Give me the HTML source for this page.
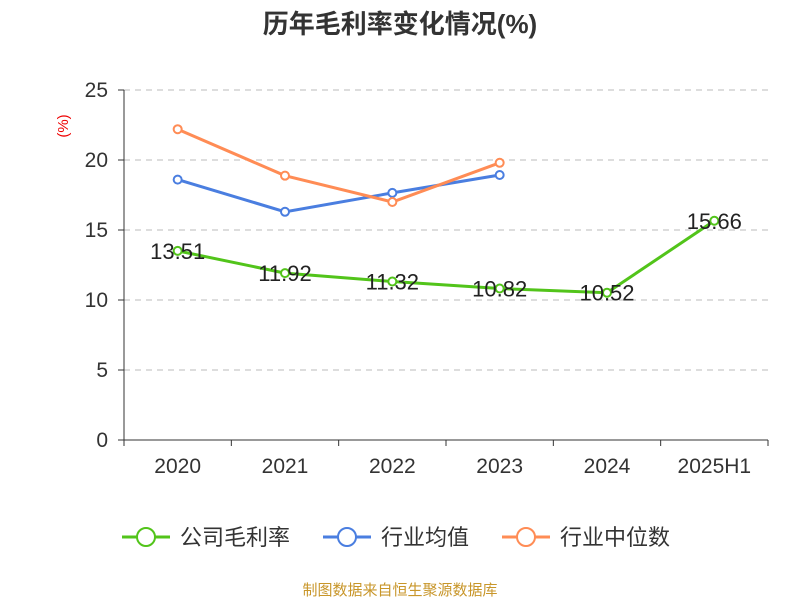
<!DOCTYPE html>
<html><head><meta charset="utf-8"><style>
body{margin:0;background:#fff;width:800px;height:600px;overflow:hidden;font-family:"Liberation Sans","Noto Sans CJK SC",sans-serif}
</style></head><body>
<svg id="c" width="800" height="600" xmlns="http://www.w3.org/2000/svg">
<text x="400" y="33" text-anchor="middle" font-size="26" font-weight="bold" fill="#333" font-family="Liberation Sans,Noto Sans CJK SC,sans-serif">历年毛利率变化情况(%)</text>
<text transform="translate(68,126) rotate(-90)" text-anchor="middle" font-size="15" fill="#e00">(%)</text>
<g id="grid"></g><g id="axes"></g><g id="series"></g>
<g>
<g><line x1="122" y1="537" x2="170" y2="537" stroke="#52c41a" stroke-width="3"/><circle cx="146" cy="537" r="9" fill="#fff" stroke="#52c41a" stroke-width="2"/><text x="180" y="545" font-size="22" fill="#333">公司毛利率</text></g>
<g><line x1="323" y1="537" x2="371" y2="537" stroke="#4a7ee0" stroke-width="3"/><circle cx="347" cy="537" r="9" fill="#fff" stroke="#4a7ee0" stroke-width="2"/><text x="381" y="545" font-size="22" fill="#333">行业均值</text></g>
<g><line x1="502" y1="537" x2="550" y2="537" stroke="#ff8c55" stroke-width="3"/><circle cx="526" cy="537" r="9" fill="#fff" stroke="#ff8c55" stroke-width="2"/><text x="560" y="545" font-size="22" fill="#333">行业中位数</text></g>
</g>
<text x="400" y="595" text-anchor="middle" font-size="15" fill="#c8962a">制图数据来自恒生聚源数据库</text>
</svg>
<script>
const categories=["2020","2021","2022","2023","2024","2025H1"];
const companyValues=[13.51,11.92,11.32,10.82,10.52,15.66];
const industryAvg=[18.6,16.3,17.65,18.93];
const industryMedian=[22.2,18.88,17.0,19.8];
const yTicks=[0,5,10,15,20,25];
const NS="http://www.w3.org/2000/svg";
const x0=124,x1=768,yb=440,yt=90,ymax=25;
const bw=(x1-x0)/categories.length;
const xs=i=>x0+bw*(i+0.5);
const ys=v=>yb-(v/ymax)*(yb-yt);
function mk(t,a,p){const e=document.createElementNS(NS,t);for(const k in a)e.setAttribute(k,a[k]);p.appendChild(e);return e;}
const grid=document.getElementById('grid'),axes=document.getElementById('axes'),ser=document.getElementById('series');
yTicks.forEach(v=>{
 if(v>0){const g=mk('line',{x1:x0,x2:x1,y1:ys(v),y2:ys(v),stroke:'#bbb','stroke-dasharray':'6,5'},grid);
 
 }
 const tk=mk('line',{x1:x0-6,x2:x0,y1:ys(v),y2:ys(v),stroke:'#333'},axes);
 
 
 const t=mk('text',{x:x0-16,y:ys(v)+7,'text-anchor':'end','font-size':21,fill:'#333'},axes);t.textContent=v;
 
 
});
const ya=mk('line',{x1:x0,x2:x0,y1:yt,y2:yb,stroke:'#333'},axes);


const xa=mk('line',{x1:x0,x2:x1,y1:yb,y2:yb,stroke:'#333'},axes);


for(let i=0;i<=categories.length;i++){const tk=mk('line',{x1:x0+bw*i,x2:x0+bw*i,y1:yb,y2:yb+6,stroke:'#333'},axes);
 
 }
categories.forEach((c,i)=>{const t=mk('text',{x:xs(i),y:473,'text-anchor':'middle','font-size':21,fill:'#333'},axes);t.textContent=c;
 
 });
function series(vals,color,name,labels){
 const g=mk('g',{},ser);
 
 
 const pl=mk('polyline',{points:vals.map((v,i)=>xs(i)+','+ys(v)).join(' '),fill:'none',stroke:color,'stroke-width':3},g);
 
 
 vals.forEach((v,i)=>{const p=mk('circle',{cx:xs(i),cy:ys(v),r:4,fill:'#fff',stroke:color,'stroke-width':2},g);
  
  
  if(labels){const t=mk('text',{x:xs(i),y:ys(v)+8,'text-anchor':'middle','font-size':22,fill:'#222'},g);t.textContent=v.toFixed(2);
   
   }
 });
}
series(industryAvg,'#4a7ee0','industry-avg-series',false);
series(industryMedian,'#ff8c55','industry-median-series',false);
series(companyValues,'#52c41a','company-series',true);
</script>
</body></html>
